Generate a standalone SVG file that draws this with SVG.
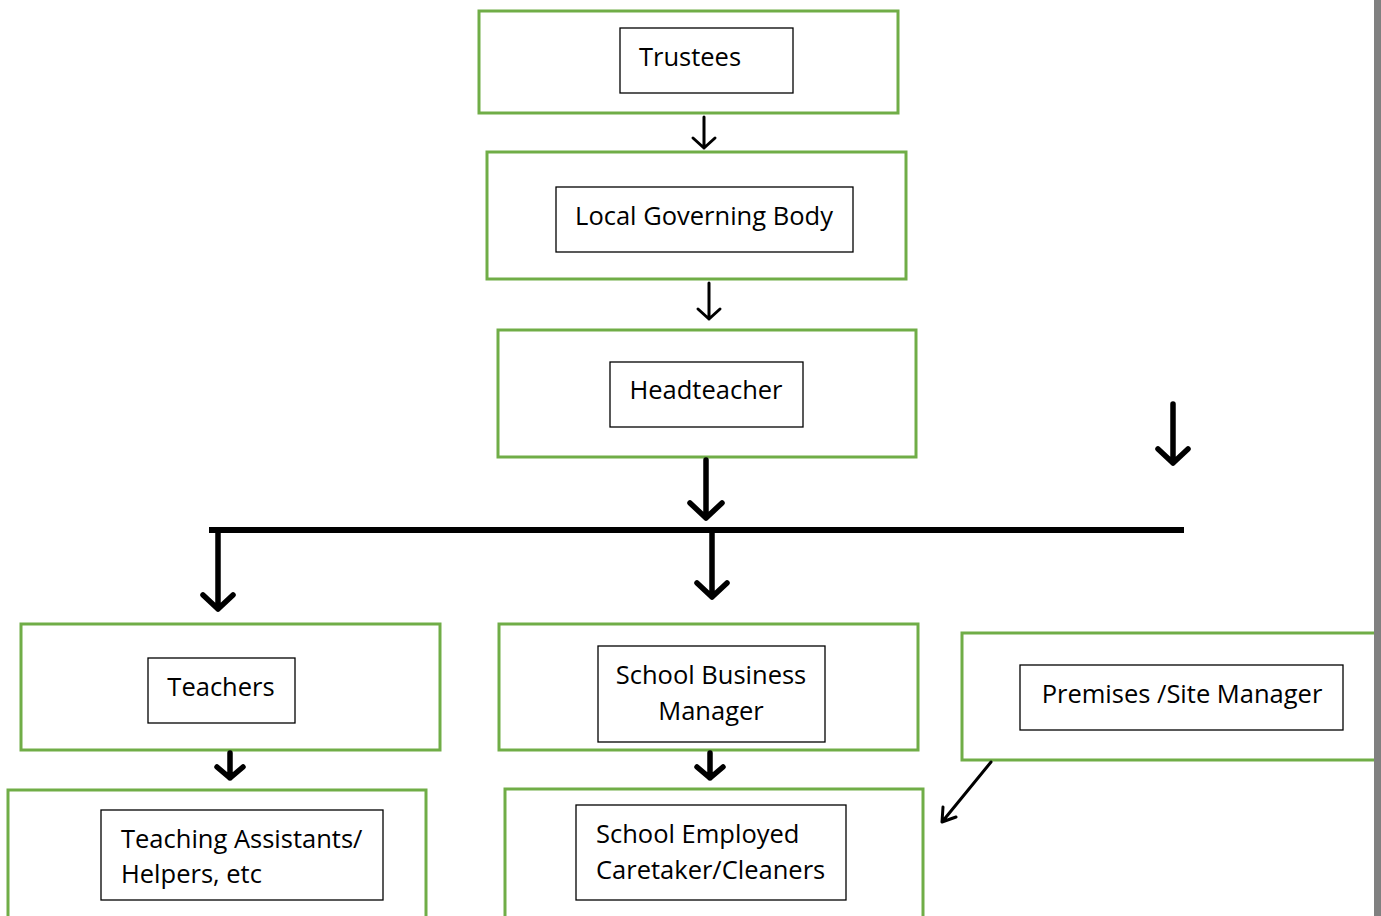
<svg xmlns="http://www.w3.org/2000/svg" width="1381" height="916" viewBox="0 0 1381 916">
<style>
.outer{fill:none;stroke:#70ad47;stroke-width:3}
.inner{fill:#fff;stroke:#000;stroke-width:1.3}
.t{font-family:"Open Sans","Noto Sans",sans-serif;font-size:25.5px;fill:#000}
.thin{fill:none;stroke:#000;stroke-width:3;stroke-linecap:round;stroke-linejoin:round}
.thick{fill:none;stroke:#000;stroke-width:5.5;stroke-linecap:round;stroke-linejoin:round}
</style>
<rect width="1381" height="916" fill="#fff"/>
<g id="trustees"><rect class="outer" x="479" y="11" width="419" height="102"/><rect class="inner" x="620" y="28" width="173" height="65"/><text class="t" x="690" y="66" text-anchor="middle">Trustees</text></g>
<g id="lgb"><rect class="outer" x="487" y="152" width="419" height="127"/><rect class="inner" x="556" y="187" width="297" height="65"/><text class="t" x="704" y="225" text-anchor="middle">Local Governing Body</text></g>
<g id="headteacher"><rect class="outer" x="498" y="330" width="418" height="127"/><rect class="inner" x="610" y="362" width="193" height="65"/><text class="t" x="706" y="399" text-anchor="middle">Headteacher</text></g>
<g id="teachers"><rect class="outer" x="21" y="624" width="419" height="126"/><rect class="inner" x="148" y="658" width="147" height="65"/><text class="t" x="221" y="696" text-anchor="middle">Teachers</text></g>
<g id="sbm"><rect class="outer" x="499" y="624" width="419" height="126"/><rect class="inner" x="598" y="646" width="227" height="96"/><text class="t" x="711" y="684" text-anchor="middle">School Business</text><text class="t" x="711" y="720" text-anchor="middle">Manager</text></g>
<g id="premises"><path class="outer" d="M1381 633 H962 V760 H1381"/><rect class="inner" x="1020" y="665" width="323" height="65"/><text class="t" x="1182" y="703" text-anchor="middle">Premises /Site Manager</text></g>
<g id="ta"><path class="outer" d="M8 918 V790 H426 V918"/><rect class="inner" x="101" y="810" width="282" height="90"/><text class="t" x="121" y="848">Teaching Assistants/</text><text class="t" x="121" y="883">Helpers, etc</text></g>
<g id="sec"><path class="outer" d="M505 918 V789 H923 V918"/><rect class="inner" x="576" y="805" width="270" height="95"/><text class="t" x="596" y="843">School Employed</text><text class="t" x="596" y="879">Caretaker/Cleaners</text></g>
<g id="connectors">
<path class="thin" d="M704 117 V148 M693 138 L704 148 L715 138"/>
<path class="thin" d="M709 283 V319 M698 309 L709 319 L720 309"/>
<path class="thick" d="M706 460 V518 M690 503 L706 518 L722 503"/>
<path class="thick" d="M1173 404 V463 M1158 449 L1173 463 L1188 449"/>
<line x1="209" y1="530" x2="1184" y2="530" stroke="#000" stroke-width="6"/>
<path class="thick" d="M218 531 V609 M203 595 L218 609 L233 595"/>
<path class="thick" d="M712 533 V597 M697 583 L712 597 L727 583"/>
<path class="thick" d="M230 753 V778 M217 767 L230 778 L243 767"/>
<path class="thick" d="M710 753 V778 M697 767 L710 778 L723 767"/>
<path class="thin" d="M991 762 L942 822 M943 807 L942 822 L956 817"/>
</g>
<rect x="1374" y="0" width="7" height="916" fill="#808080"/>
</svg>
